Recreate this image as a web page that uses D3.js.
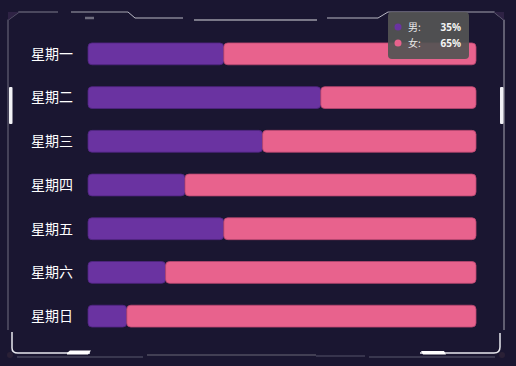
<!DOCTYPE html>
<html><head><meta charset="utf-8">
<script src="https://cdn.jsdelivr.net/npm/d3@7/dist/d3.min.js"></script>
<style>html,body{margin:0;padding:0;background:#1a1631;}svg{display:block;}</style>
</head><body>
<script>
const categories = ["星期一","星期二","星期三","星期四","星期五","星期六","星期日"];
const maleValues = [35, 60, 45, 25, 35, 20, 10];
const femaleValues = [65, 40, 55, 75, 65, 80, 90];
const seriesNames = ["男", "女"];
const seriesColors = ["#6a33a1", "#e8628d"];
const strokeColors = ["#4f2580", "#b84670"];

const W = 516, H = 366;
const svg = d3.select("body").append("svg").attr("width", W).attr("height", H);
svg.append("rect").attr("width", W).attr("height", H).attr("fill", "#1a1631");

// frame decoration
const fr = svg.append("g").attr("fill", "none");
const gray = "#5c5a6e", light = "#b9b8c4";
fr.append("path").attr("d", "M8,330 L8,20 L19,12 L58,12").attr("stroke", gray).attr("stroke-width", 1.3);
fr.append("path").attr("d", "M71,12 L128,12 L135,18 L183,18").attr("stroke", light).attr("stroke-width", 1);
fr.append("path").attr("d", "M71,12 L128,12").attr("stroke", gray).attr("stroke-width", 1.3);
fr.append("path").attr("d", "M85,18 L94,18").attr("stroke", "#6e6c7e").attr("stroke-width", 2.5);
fr.append("path").attr("d", "M194,20 L317,20").attr("stroke", "#7a7888").attr("stroke-width", 2);
fr.append("path").attr("d", "M327,18 L378,18 L388,12 L494,12 L504,20 L504,330").attr("stroke", light).attr("stroke-width", 1);
fr.append("path").attr("d", "M388,12 L494,12 L504,20 L504,330").attr("stroke", gray).attr("stroke-width", 1.3);
fr.append("path").attr("d", "M8,20 L19,12 L8,12 Z").attr("fill", "#2e2244").attr("stroke", "none");
fr.append("path").attr("d", "M504,20 L494,12 L504,12 Z").attr("fill", "#2e2244").attr("stroke", "none");
// side white bars
fr.append("rect").attr("x", 9).attr("y", 87).attr("width", 3.5).attr("height", 37).attr("rx", 1).attr("fill", "#f2f2f6");
fr.append("rect").attr("x", 500).attr("y", 87).attr("width", 3.5).attr("height", 37).attr("rx", 1).attr("fill", "#f2f2f6");
// bottom corners
fr.append("path").attr("d", "M12,332 L12,348 Q12,353 18,353 L90,353").attr("stroke", "#e8e8ee").attr("stroke-width", 1.5);
fr.append("path").attr("d", "M67,353 L70,350.5 L91,350.5 L88,354.5 L67,354.5 Z").attr("fill", "#ffffff").attr("stroke", "none");
fr.append("path").attr("d", "M500,333 L500,347 Q500,353 494,353 L420,353").attr("stroke", "#e8e8ee").attr("stroke-width", 1.5);
fr.append("path").attr("d", "M421,351 L444,351 L446,354.5 L423,354.5 Z").attr("fill", "#ffffff").attr("stroke", "none");
fr.append("path").attr("d", "M17,357 L143,357").attr("stroke", "#45435a").attr("stroke-width", 1.5);
fr.append("path").attr("d", "M147,355 L316,355").attr("stroke", "#6a6878").attr("stroke-width", 1);
fr.append("path").attr("d", "M369,357 L495,357").attr("stroke", "#45435a").attr("stroke-width", 1.5);
fr.append("path").attr("d", "M316,356 L365,356").attr("stroke", "#55536a").attr("stroke-width", 1);
fr.append("circle").attr("cx", 10).attr("cy", 355).attr("r", 3).attr("fill", "#2a2036");
fr.append("circle").attr("cx", 502).attr("cy", 355).attr("r", 3).attr("fill", "#2a2036");

// scales
const y = d3.scaleBand().domain(categories).range([32, 338]).paddingInner(0.5).paddingOuter(0.25);
const x = d3.scaleLinear().domain([0, 100]).range([88, 476]);

const rows = categories.map((c, i) => ({c, m: maleValues[i], f: femaleValues[i]}));
const g = svg.append("g");
g.selectAll("rect.m").data(rows).join("rect").attr("class", "m")
  .attr("x", x(0)).attr("y", d => y(d.c)).attr("width", d => x(d.m) - x(0)).attr("height", y.bandwidth())
  .attr("rx", 4).attr("fill", seriesColors[0]).attr("stroke", strokeColors[0]).attr("stroke-width", 0.8);
g.selectAll("rect.f").data(rows).join("rect").attr("class", "f")
  .attr("x", d => x(d.m)).attr("y", d => y(d.c)).attr("width", d => x(d.m + d.f) - x(d.m)).attr("height", y.bandwidth())
  .attr("rx", 4).attr("fill", seriesColors[1]).attr("stroke", strokeColors[1]).attr("stroke-width", 0.8);

// category axis labels
svg.append("g").selectAll("text").data(categories).join("text")
  .attr("x", 73).attr("y", d => y(d) + y.bandwidth() / 2).attr("dy", "0.35em")
  .attr("text-anchor", "end").attr("fill", "#ffffff")
  .attr("font-family", "'Noto Sans CJK SC', sans-serif").attr("font-size", 14)
  .text(d => d);

// tooltip
const tip = svg.append("g").attr("transform", "translate(388,12)");
tip.append("rect").attr("width", 81).attr("height", 47).attr("rx", 4).attr("fill", "rgba(84,84,84,0.93)");
const tipVals = [maleValues[0], femaleValues[0]];
seriesNames.forEach((n, i) => {
  const ty = 15 + i * 16;
  tip.append("circle").attr("cx", 10).attr("cy", ty).attr("r", 3.5).attr("fill", seriesColors[i]);
  tip.append("text").attr("x", 20).attr("y", ty).attr("dy", "0.35em").attr("fill", "#e8e8e8")
    .attr("font-family", "'Noto Sans CJK SC', sans-serif").attr("font-size", 10).text(n + ":");
  tip.append("text").attr("x", 73).attr("y", ty).attr("dy", "0.35em").attr("text-anchor", "end").attr("fill", "#f4f4f4")
    .attr("font-family", "'Noto Sans', sans-serif").attr("font-weight", "bold").attr("font-size", 10).text(tipVals[i] + "%");
});
</script>
</body></html>
